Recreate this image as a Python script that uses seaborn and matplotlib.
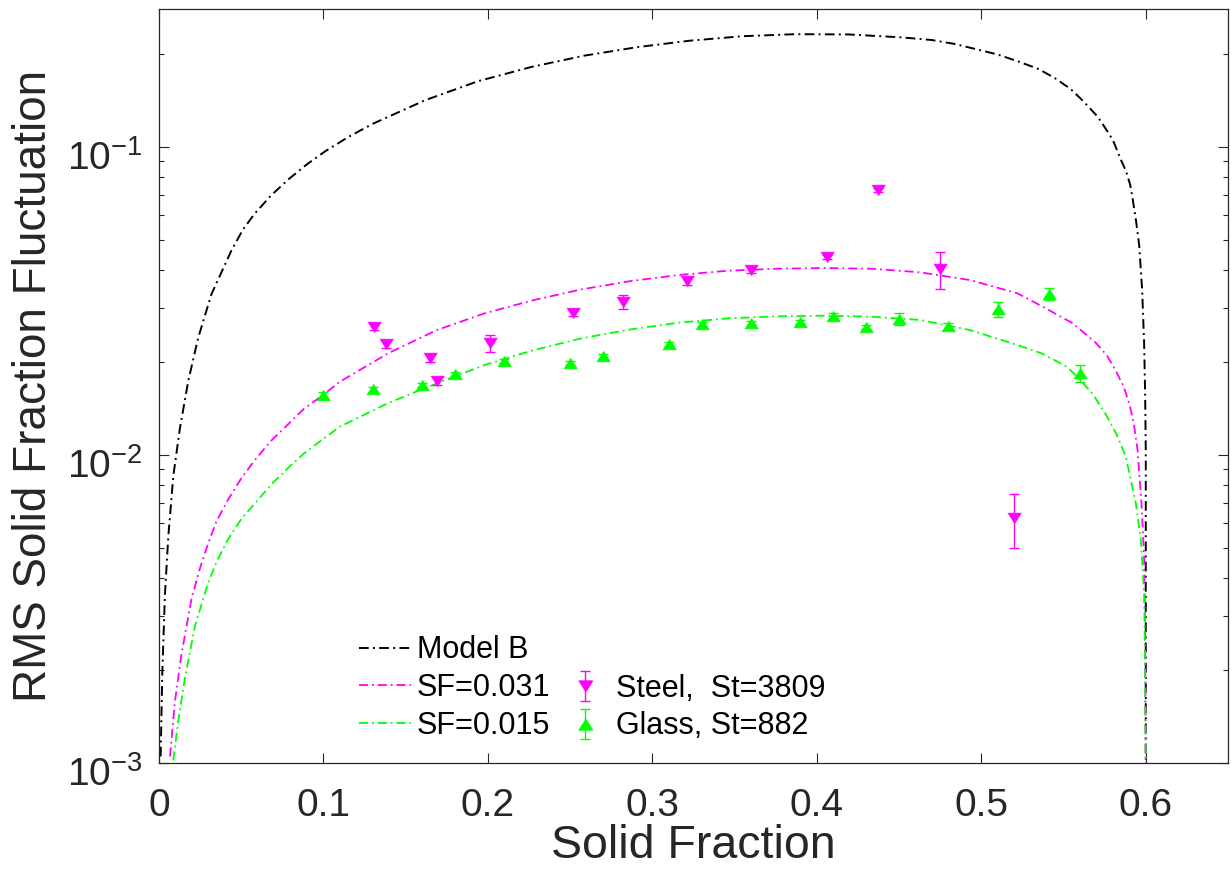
import matplotlib
matplotlib.use("Agg")
import matplotlib.pyplot as plt
import matplotlib.transforms as mtransforms
import seaborn as sns
import pandas as pd
from matplotlib.ticker import FixedLocator, FuncFormatter, LogLocator, NullFormatter, LogFormatterSciNotation
from matplotlib.lines import Line2D
from matplotlib.legend_handler import HandlerErrorbar
from matplotlib.container import ErrorbarContainer

# ---------------- data ----------------
model_b_x = [0.001, 0.002, 0.0036, 0.0057, 0.0087, 0.0127, 0.0178, 0.0238, 0.0319, 0.044,
             0.051, 0.0582, 0.068, 0.0784, 0.090, 0.101, 0.115, 0.130, 0.162, 0.194,
             0.2265, 0.2586, 0.2908, 0.323, 0.355, 0.387, 0.4194, 0.4516, 0.470, 0.484,
             0.5095, 0.522, 0.535, 0.545, 0.5545, 0.5625, 0.5706, 0.575, 0.580, 0.585,
             0.588, 0.5905, 0.592, 0.594, 0.596, 0.5978, 0.599, 0.5996, 0.600, 0.600]
model_b_y = [0.00105, 0.00195, 0.00352, 0.00548, 0.00855, 0.0122, 0.0174, 0.0240, 0.0333, 0.0461,
             0.0539, 0.0608, 0.0695, 0.0783, 0.0879, 0.0968, 0.1077, 0.1190, 0.1420, 0.1636,
             0.182, 0.198, 0.211, 0.2215, 0.229, 0.2325, 0.232, 0.227, 0.2225, 0.216,
             0.200, 0.190, 0.179, 0.167, 0.154, 0.140, 0.1257, 0.116, 0.1054, 0.0906,
             0.0835, 0.0755, 0.0680, 0.0580, 0.0480, 0.0343, 0.0231, 0.0160, 0.0104, 0.001]

sf031_x = [0.0067, 0.0097, 0.0137, 0.0198, 0.025, 0.0299, 0.035, 0.042, 0.050, 0.0582,
           0.068, 0.0784, 0.088, 0.0986, 0.110, 0.1394, 0.169, 0.198, 0.228, 0.257,
           0.287, 0.316, 0.346, 0.375, 0.404, 0.434, 0.463, 0.493, 0.522, 0.537,
           0.5555, 0.5697, 0.5765, 0.582, 0.5865, 0.590, 0.5928, 0.595, 0.5974, 0.599,
           0.5996, 0.600]
sf031_y = [0.00105, 0.00159, 0.00226, 0.00342, 0.0043, 0.00517, 0.0061, 0.00716, 0.0084, 0.00962,
           0.0111, 0.01257, 0.0141, 0.0155, 0.0173, 0.0214, 0.02546, 0.02884, 0.03186, 0.03451,
           0.03672, 0.03841, 0.03966, 0.04025, 0.04046, 0.04025, 0.03918, 0.0370, 0.0335, 0.03037,
           0.02679, 0.02312, 0.0210, 0.01868, 0.0167, 0.01468, 0.0126, 0.01038, 0.00695, 0.00467,
           0.00273, 0.001]

sf015_x = [0.0087, 0.0117, 0.0158, 0.0218, 0.0299, 0.035, 0.042, 0.050, 0.0582, 0.068,
           0.0784, 0.088, 0.0986, 0.110, 0.139, 0.169, 0.198, 0.228, 0.257, 0.287,
           0.316, 0.346, 0.375, 0.404, 0.434, 0.463, 0.493, 0.522, 0.537, 0.552,
           0.5595, 0.568, 0.5757, 0.5825, 0.5879, 0.594, 0.597, 0.599, 0.5995, 0.600]
sf015_y = [0.00102, 0.00137, 0.00189, 0.00278, 0.00385, 0.0045, 0.00533, 0.0062, 0.00695, 0.0080,
           0.00907, 0.0101, 0.01115, 0.01236, 0.01472, 0.01709, 0.0196, 0.02193, 0.02393, 0.02559,
           0.02689, 0.02778, 0.0282, 0.02833, 0.02812, 0.02744, 0.02546, 0.02276, 0.02134, 0.01935,
           0.0177, 0.0157, 0.01356, 0.0116, 0.00985, 0.00695, 0.00532, 0.00357, 0.0022, 0.001]

steel_x = [0.131, 0.138, 0.165, 0.169, 0.201, 0.252, 0.282, 0.321, 0.360, 0.406, 0.437, 0.475, 0.520]
steel_y = [0.02606, 0.02291, 0.02065, 0.01738, 0.02311, 0.02891, 0.03140, 0.03673, 0.03987,
           0.04395, 0.07249, 0.04018, 0.00624]
steel_err = [0.0006, 0.0006, 0.0006, 0.0005, 0.0015, 0.0006, 0.0017, 0.0010, 0.0008,
             0.0008, 0.0012, 0.0056, 0.00125]

glass_x = [0.100, 0.130, 0.160, 0.180, 0.210, 0.250, 0.270, 0.310, 0.330, 0.360,
           0.390, 0.410, 0.430, 0.450, 0.480, 0.510, 0.541, 0.560]
glass_y = [0.01566, 0.01637, 0.01687, 0.01833, 0.02018, 0.01990, 0.02095, 0.02293, 0.02663, 0.02685,
           0.02704, 0.02827, 0.02604, 0.02765, 0.02623, 0.02979, 0.03333, 0.01846]
glass_err = [0.0003, 0.0003, 0.0003, 0.0003, 0.0003, 0.0003, 0.0003, 0.0003, 0.0005, 0.0004,
             0.0004, 0.0007, 0.0004, 0.0012, 0.0006, 0.0017, 0.0015, 0.0012]

curve_labels = ["Model B", "SF=0.031", "SF=0.015"]
point_labels = ["Steel,  St=3809", "Glass, St=882"]
x_ticks = [0, 0.1, 0.2, 0.3, 0.4, 0.5, 0.6]

# ---------------- style ----------------
sns.set_theme(style="white")
plt.rcParams["font.family"] = ["Liberation Sans", "DejaVu Sans"]
plt.rcParams["mathtext.fontset"] = "custom"
plt.rcParams["mathtext.rm"] = "Liberation Sans"
plt.rcParams["mathtext.it"] = "Liberation Sans:italic"
plt.rcParams["mathtext.bf"] = "Liberation Sans:bold"
plt.rcParams["mathtext.default"] = "regular"
plt.rcParams["axes.unicode_minus"] = False
AX_COL = "#262626"
plt.rcParams.update({
    "xtick.bottom": True, "xtick.top": True, "ytick.left": True, "ytick.right": True,
    "xtick.direction": "in", "ytick.direction": "in",
    "xtick.color": AX_COL, "ytick.color": AX_COL,
    "xtick.major.size": 7, "ytick.major.size": 7,
    "xtick.minor.size": 3.5, "ytick.minor.size": 3.5,
    "xtick.major.width": 0.8, "ytick.major.width": 0.8,
    "xtick.minor.width": 0.8, "ytick.minor.width": 0.8,
})

MAG = "#FF00FF"
GRN = "#00FF00"
DASHDOT = (0, (5, 2.2, 1, 2.2))

fig = plt.figure(figsize=(12.31, 8.84), dpi=100)
W, H = 1231.0, 884.0
ax = fig.add_axes([159 / W, 1 - 763 / H, (1228 - 159) / W, (763 - 9.3) / H])
ax.set_yscale("log")

curves = [(model_b_x, model_b_y, "black", 1.4), (sf031_x, sf031_y, MAG, 1.3), (sf015_x, sf015_y, GRN, 1.3)]
for (cx, cy, col, lw), lab in zip(curves, curve_labels):
    df = pd.DataFrame({"x": cx, "y": cy})
    sns.lineplot(data=df, x="x", y="y", ax=ax, color=col, lw=lw, linestyle=DASHDOT,
                 sort=False, estimator=None, label=lab, legend=False)
line_handles = list(ax.get_lines()[:3])

tri_down = [(-1, 0.786), (1, 0.786), (0, -0.786)]
tri_up = [(-1, -0.786), (1, -0.786), (0, 0.786)]

eb_steel = ax.errorbar(steel_x, steel_y, yerr=steel_err, fmt="none", ecolor=MAG,
                       elinewidth=1.0, capsize=3.6, capthick=1.0, zorder=3)
eb_glass = ax.errorbar(glass_x, glass_y, yerr=glass_err, fmt="none", ecolor=GRN,
                       elinewidth=1.0, capsize=3.6, capthick=1.0, zorder=3)
sns.scatterplot(x=steel_x, y=steel_y, ax=ax, marker=tri_down, s=95, color=MAG,
                edgecolor=MAG, linewidth=0.5, zorder=4, legend=False)
sns.scatterplot(x=glass_x, y=glass_y, ax=ax, marker=tri_up, s=95, color=GRN,
                edgecolor=GRN, linewidth=0.5, zorder=4, legend=False)

m_steel = Line2D([], [], linestyle="none", marker=tri_down, markersize=10, color=MAG)
m_glass = Line2D([], [], linestyle="none", marker=tri_up, markersize=10, color=GRN)

# ---------------- axes ----------------
ax.set_xlim(0, 0.65)
ax.set_ylim(1e-3, 0.28)
ax.xaxis.set_major_locator(FixedLocator(x_ticks))
ax.xaxis.set_major_formatter(FuncFormatter(lambda v, p: "%g" % v))
ax.yaxis.set_major_locator(LogLocator(base=10, numticks=10))
ax.yaxis.set_major_formatter(LogFormatterSciNotation())
ax.yaxis.set_minor_locator(LogLocator(base=10, subs=range(2, 10), numticks=20))
ax.yaxis.set_minor_formatter(NullFormatter())
ax.xaxis.set_ticks_position("both")
ax.yaxis.set_ticks_position("both")

ax.tick_params(which="both", direction="in", top=True, right=True, left=True, bottom=True,
               color=AX_COL, labelcolor=AX_COL, width=0.8,
               labelleft=True, labelbottom=True, labeltop=False, labelright=False)
ax.tick_params(which="major", length=7, labelsize=28)
ax.tick_params(axis="y", which="major", pad=12)
ax.tick_params(axis="x", which="major", pad=18)
ax.tick_params(which="minor", length=3.5)
for s in ax.spines.values():
    s.set_color(AX_COL)
    s.set_linewidth(0.9)
    s.set_visible(True)

# shift the y tick labels slightly downward (the base "10" sits below the tick)
shift = mtransforms.ScaledTranslation(0, -5.5 / 72, fig.dpi_scale_trans)
for tk in ax.yaxis.get_major_ticks():
    tk.label1.set_transform(tk.label1.get_transform() + shift)

ax.set_xlabel("Solid Fraction", fontsize=33.5, color=AX_COL, labelpad=0)
ax.set_ylabel("RMS Solid Fraction Fluctuation", fontsize=33, color=AX_COL, labelpad=8)

# ---------------- legends ----------------
leg1 = ax.legend(handles=line_handles, labels=curve_labels, loc="center left",
                 bbox_to_anchor=(0.187, 0.0996), frameon=False, fontsize=22,
                 handlelength=1.7, handletextpad=0.2, labelspacing=0.25,
                 borderpad=0, borderaxespad=0)
for t in leg1.get_texts():
    t.set_color("black")
ax.add_artist(leg1)

eb_map = {ErrorbarContainer: HandlerErrorbar(yerr_size=0.49)}
leg2 = ax.legend(handles=[(eb_steel, m_steel), (eb_glass, m_glass)], labels=point_labels,
                 loc="center left", bbox_to_anchor=(0.3813, 0.0736), frameon=False,
                 fontsize=22, handlelength=1.2, handletextpad=0.41, labelspacing=0.25,
                 borderpad=0, borderaxespad=0, handler_map=eb_map)
for t in leg2.get_texts():
    t.set_color("black")

fig.savefig("out.png", dpi=100)
